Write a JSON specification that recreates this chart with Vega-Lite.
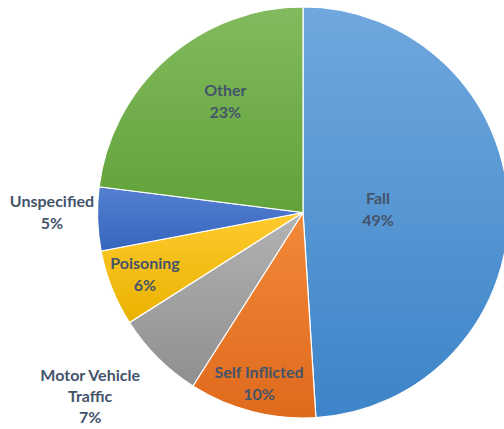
{
  "$schema": "https://vega.github.io/schema/vega-lite/v6.json",
  "width": 606,
  "height": 425,
  "padding": 0,
  "autosize": {"type": "none"},
  "background": "white",
  "config": {"view": {"stroke": null}},
  "data": {"values": [
    {"idx": 1, "cat": "Fall", "pct": 49, "label": ["Fall", "49%"]},
    {"idx": 2, "cat": "Self Inflicted", "pct": 10, "label": ["Self Inflicted", "10%"]},
    {"idx": 3, "cat": "Motor Vehicle Traffic", "pct": 7, "label": ["Motor Vehicle", "Traffic", "7%"]},
    {"idx": 4, "cat": "Poisoning", "pct": 6, "label": ["Poisoning", "6%"]},
    {"idx": 5, "cat": "Unspecified", "pct": 5, "label": ["Unspecified", "5%"]},
    {"idx": 6, "cat": "Other", "pct": 23, "label": ["Other", "23%"]}
  ]},
  "encoding": {
    "theta": {"field": "pct", "type": "quantitative", "stack": true},
    "order": {"field": "idx", "type": "quantitative"}
  },
  "layer": [
    {
      "mark": {"type": "arc", "outerRadius": 205.5, "stroke": "white", "strokeWidth": 1.2},
      "encoding": {
        "fill": {
          "condition": [
            {"test": "datum.cat === 'Fall'", "value": {"gradient": "linear", "x1": 0, "y1": 0, "x2": 0, "y2": 1, "stops": [{"offset": 0, "color": "#70A8DE"}, {"offset": 1, "color": "#3C84C8"}]}},
            {"test": "datum.cat === 'Self Inflicted'", "value": {"gradient": "linear", "x1": 0, "y1": 0, "x2": 0, "y2": 1, "stops": [{"offset": 0, "color": "#F2893A"}, {"offset": 1, "color": "#DF6A1C"}]}},
            {"test": "datum.cat === 'Motor Vehicle Traffic'", "value": {"gradient": "linear", "x1": 0, "y1": 0, "x2": 0, "y2": 1, "stops": [{"offset": 0, "color": "#B3B3B3"}, {"offset": 1, "color": "#8F8F8F"}]}},
            {"test": "datum.cat === 'Poisoning'", "value": {"gradient": "linear", "x1": 0, "y1": 0, "x2": 0, "y2": 1, "stops": [{"offset": 0, "color": "#FFCA2E"}, {"offset": 1, "color": "#E9B200"}]}},
            {"test": "datum.cat === 'Unspecified'", "value": {"gradient": "linear", "x1": 0, "y1": 0, "x2": 0, "y2": 1, "stops": [{"offset": 0, "color": "#5580D0"}, {"offset": 1, "color": "#3565BE"}]}}
          ],
          "value": {"gradient": "linear", "x1": 0, "y1": 0, "x2": 0, "y2": 1, "stops": [{"offset": 0, "color": "#82BB5E"}, {"offset": 1, "color": "#61A239"}]}
        }
      }
    },
    {
      "mark": {"type": "text", "radius": 75, "dy": -11, "font": "Lato", "fontWeight": "bold", "fontSize": 16, "lineHeight": 22, "fill": "#44546A"},
      "encoding": {"text": {"condition": {"test": "datum.cat === 'Fall'", "field": "label"}, "value": ""}}
    },
    {
      "mark": {"type": "text", "radius": 177, "dy": -11, "font": "Lato", "fontWeight": "bold", "fontSize": 16, "lineHeight": 22, "fill": "#44546A"},
      "encoding": {"text": {"condition": {"test": "datum.cat === 'Self Inflicted'", "field": "label"}, "value": ""}}
    },
    {
      "mark": {"type": "text", "radius": 282, "dy": -21, "thetaOffset": 0.07, "font": "Lato", "fontWeight": "bold", "fontSize": 16, "lineHeight": 21, "fill": "#44546A"},
      "encoding": {"text": {"condition": {"test": "datum.cat === 'Motor Vehicle Traffic'", "field": "label"}, "value": ""}}
    },
    {
      "mark": {"type": "text", "radius": 170, "dy": -11, "font": "Lato", "fontWeight": "bold", "fontSize": 16, "lineHeight": 22, "fill": "#44546A"},
      "encoding": {"text": {"condition": {"test": "datum.cat === 'Poisoning'", "field": "label"}, "value": ""}}
    },
    {
      "mark": {"type": "text", "radius": 251, "dy": -11, "thetaOffset": 0.03, "font": "Lato", "fontWeight": "bold", "fontSize": 16, "lineHeight": 22, "fill": "#44546A"},
      "encoding": {"text": {"condition": {"test": "datum.cat === 'Unspecified'", "field": "label"}, "value": ""}}
    },
    {
      "mark": {"type": "text", "radius": 135, "dy": -11, "thetaOffset": 0.11, "font": "Lato", "fontWeight": "bold", "fontSize": 16, "lineHeight": 22, "fill": "#44546A"},
      "encoding": {"text": {"condition": {"test": "datum.cat === 'Other'", "field": "label"}, "value": ""}}
    }
  ]
}
